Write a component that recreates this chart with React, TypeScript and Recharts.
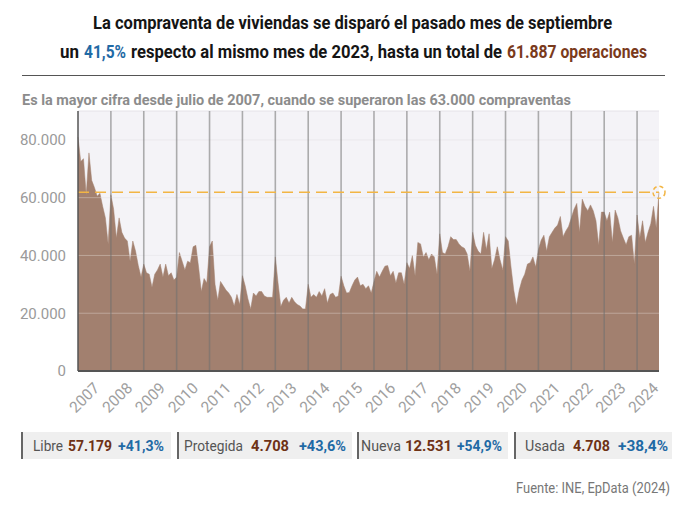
import React, { useLayoutEffect, useRef, useState } from 'react';
import { AreaChart, Area, XAxis, YAxis, CartesianGrid, ReferenceLine, ReferenceDot } from 'recharts';

const years = ['2007', '2008', '2009', '2010', '2011', '2012', '2013', '2014', '2015', '2016', '2017', '2018', '2019', '2020', '2021', '2022', '2023', '2024'];

const v2007 = [81000, 72500, 73500, 61000, 75500, 66000, 63500, 60500, 61500, 57000, 53000, 44000];
const v2008 = [61000, 56000, 46000, 53000, 48000, 46000, 45000, 38000, 45000, 41500, 36500, 32500];
const v2009 = [37000, 34000, 33500, 29000, 33500, 35000, 37000, 32500, 37000, 33000, 34000, 31500];
const v2010 = [32500, 41000, 38000, 35000, 38000, 37500, 43000, 43500, 36000, 27500, 32000, 30500];
const v2011 = [43000, 45000, 30000, 24500, 31000, 29500, 28000, 27000, 25500, 22500, 26500, 23000];
const v2012 = [33000, 29500, 25000, 21500, 27000, 26000, 27500, 27500, 26000, 25500, 25500, 25500];
const v2013 = [39500, 30500, 22300, 24500, 25500, 23500, 25500, 24000, 23000, 22500, 21500, 21500];
const v2014 = [30000, 25500, 26500, 25500, 27500, 26000, 28500, 23500, 26500, 27000, 25500, 26000];
const v2015 = [32800, 29500, 27000, 27200, 29500, 31500, 32500, 29500, 30000, 28500, 29500, 27000];
const v2016 = [31000, 34500, 32500, 34500, 36300, 36500, 33000, 34500, 30500, 34000, 34000, 30000];
const v2017 = [37500, 35500, 40000, 33000, 44500, 44000, 39500, 41000, 38500, 40500, 39500, 33500];
const v2018 = [47500, 41000, 40500, 43000, 46500, 45500, 45500, 44000, 43000, 42500, 40500, 34500];
const v2019 = [48000, 43500, 41500, 40500, 48000, 42000, 47500, 35500, 38500, 43000, 38500, 35000];
const v2020 = [46500, 45000, 36000, 28000, 22700, 28000, 31500, 33500, 37000, 37500, 39500, 36000];
const v2021 = [42000, 45300, 47000, 41500, 46500, 48000, 49500, 50500, 53500, 46500, 48500, 50000];
const v2022 = [53000, 56000, 58000, 48000, 59500, 57000, 55500, 57500, 55500, 52000, 43500, 55000];
const v2023 = [55000, 52000, 55000, 44500, 55700, 53000, 48500, 46000, 43700, 46500, 47000, 37000];
const v2024 = [54000, 46000, 52000, 44500, 48000, 51000, 57000, 49500, 61887];

const monthly = [
  ...v2007, ...v2008, ...v2009, ...v2010, ...v2011, ...v2012, ...v2013, ...v2014, ...v2015,
  ...v2016, ...v2017, ...v2018, ...v2019, ...v2020, ...v2021, ...v2022, ...v2023, ...v2024,
];

const yTicks = [0, 20000, 40000, 60000, 80000];
const gridValues = [20000, 40000, 60000, 80000];
const lastValue = 61887;

const legendLabels = ['Libre', 'Protegida', 'Nueva', 'Usada'];
const legendValues = ['57.179', '4.708', '12.531', '4.708'];
const legendChanges = ['+41,3%', '+43,6%', '+54,9%', '+38,4%'];

// layout (pixels) for the summary boxes
const boxLayout = [
  { x0: 21, x1: 171, t: [33, 30, 68, 44, 118, 46] },
  { x0: 177, x1: 352, t: [184, 59, 251, 38, 299, 47] },
  { x0: 357, x1: 508, t: [361, 40, 405, 47, 457, 45] },
  { x0: 514, x1: 672, t: [525, 40, 573, 37, 618, 50] },
];

const data = monthly.map((v, i) => ({ i, v }));
const yearStarts = years.map((_, k) => k * 12).filter((x) => x > 0);
const labelTicks = years.map((_, k) => k * 12 + 6);

const fmt = (n: number) => (n === 0 ? '0' : n.toLocaleString('de-DE'));

const FONT = 'Roboto, "Noto Sans", sans-serif';
const AREA = '#a2806f';
const ORANGE = '#f2b544';
const BLUE = '#1f6aa5';
const BROWN = '#6e3216';

// Text squeezed horizontally to a target width (the original uses a condensed face)
const FitText = (props: any) => {
  const { x, y, width, children, ...rest } = props;
  const ref = useRef<SVGTextElement>(null);
  const [s, setS] = useState(0.85);
  useLayoutEffect(() => {
    const el = ref.current;
    if (el) {
      const w = el.getComputedTextLength();
      if (w > 0) setS(width / w);
    }
  }, [width, children]);
  return (
    <g transform={`translate(${x} ${y}) scale(${s} 1)`}>
      <text ref={ref} x={0} y={0} fontFamily={FONT} {...rest}>
        {children}
      </text>
    </g>
  );
};

const YearTick = (props: any) => {
  const { x, y, payload } = props;
  const label = years[Math.floor(payload.value / 12)];
  const ax = x + 6;
  const ay = y + 16;
  return (
    <text x={ax} y={ay} transform={`rotate(-45 ${ax} ${ay})`} textAnchor="end" fill="#a0a0a0" fontSize={15.5} fontFamily={FONT}>
      {label}
    </text>
  );
};

export default function App() {
  return (
    <div style={{ position: 'absolute', left: 0, top: 0, width: 690, height: 514, background: '#fff', fontFamily: FONT }}>
      <div style={{ position: 'absolute', left: 0, top: 0 }}>
        <AreaChart width={690} height={440} data={data} margin={{ top: 111, right: 31, bottom: 19, left: 18 }}>
          <CartesianGrid fill="#f4f3f7" stroke="#e4e2e8" vertical={false} horizontal={true} />
          <XAxis
            dataKey="i"
            type="number"
            domain={[0, 212]}
            ticks={labelTicks}
            tick={<YearTick />}
            tickLine={false}
            tickSize={0}
            height={50}
            interval={0}
            axisLine={{ stroke: '#555', strokeWidth: 2 }}
          />
          <YAxis
            domain={[0, 90000]}
            ticks={yTicks}
            tickFormatter={fmt}
            width={60}
            tickLine={false}
            tickSize={0}
            tickMargin={12}
            axisLine={{ stroke: '#555', strokeWidth: 1.5 }}
            tick={{ fill: '#9a9a9a', fontSize: 15, fontFamily: FONT }}
          />
          <Area type="linear" dataKey="v" stroke={AREA} strokeWidth={0.5} fill={AREA} fillOpacity={1} isAnimationActive={false} />
          {gridValues.map((g) => (
            <ReferenceLine key={'g' + g} y={g} stroke="#ffffff" strokeOpacity={0.3} strokeWidth={1} />
          ))}
          {yearStarts.map((s) => (
            <ReferenceLine key={'y' + s} x={s} stroke="#6f6f6f" strokeOpacity={0.55} strokeWidth={1.6} />
          ))}
          <ReferenceLine y={lastValue} stroke={ORANGE} strokeDasharray="11 6" strokeWidth={1.6} />
          <ReferenceDot x={212} y={lastValue} r={6} fill="none" stroke={ORANGE} strokeWidth={1.5} strokeDasharray="4 3" />
        </AreaChart>
      </div>
      <svg width={690} height={514} style={{ position: 'absolute', left: 0, top: 0, pointerEvents: 'none' }}>
        <FitText x={93} y={29} width={519} fontSize={18} fontWeight={700} fill="#151515">
          La compraventa de viviendas se disparó el pasado mes de septiembre
        </FitText>
        <FitText x={60} y={58} width={19} fontSize={18} fontWeight={700} fill="#151515">
          un
        </FitText>
        <FitText x={84} y={58} width={42} fontSize={18} fontWeight={700} fill={BLUE}>
          41,5%
        </FitText>
        <FitText x={131} y={58} width={371} fontSize={18} fontWeight={700} fill="#151515">
          respecto al mismo mes de 2023, hasta un total de
        </FitText>
        <FitText x={507} y={58} width={140} fontSize={18} fontWeight={700} fill="#7a3a1c">
          61.887 operaciones
        </FitText>
        <line x1={22} x2={665} y1={75.5} y2={75.5} stroke="#555" strokeWidth={1} />
        <FitText x={22} y={105} width={549} fontSize={15} fontWeight={700} fill="#8c8c8c">
          Es la mayor cifra desde julio de 2007, cuando se superaron las 63.000 compraventas
        </FitText>
        {boxLayout.map((b, k) => (
          <g key={k}>
            <rect x={b.x0} y={432} width={b.x1 - b.x0} height={27} fill="#efefef" />
            <line x1={b.x0 + 1} x2={b.x0 + 1} y1={432} y2={459} stroke="#666" strokeWidth={2} />
            <FitText x={b.t[0]} y={451} width={b.t[1]} fontSize={15} fill="#555">
              {legendLabels[k]}
            </FitText>
            <FitText x={b.t[2]} y={451} width={b.t[3]} fontSize={15} fontWeight={700} fill={BROWN}>
              {legendValues[k]}
            </FitText>
            <FitText x={b.t[4]} y={451} width={b.t[5]} fontSize={15} fontWeight={700} fill={BLUE}>
              {legendChanges[k]}
            </FitText>
          </g>
        ))}
        <FitText x={516} y={493} width={154} fontSize={14} fill="#777">
          Fuente: INE, EpData (2024)
        </FitText>
      </svg>
    </div>
  );
}
